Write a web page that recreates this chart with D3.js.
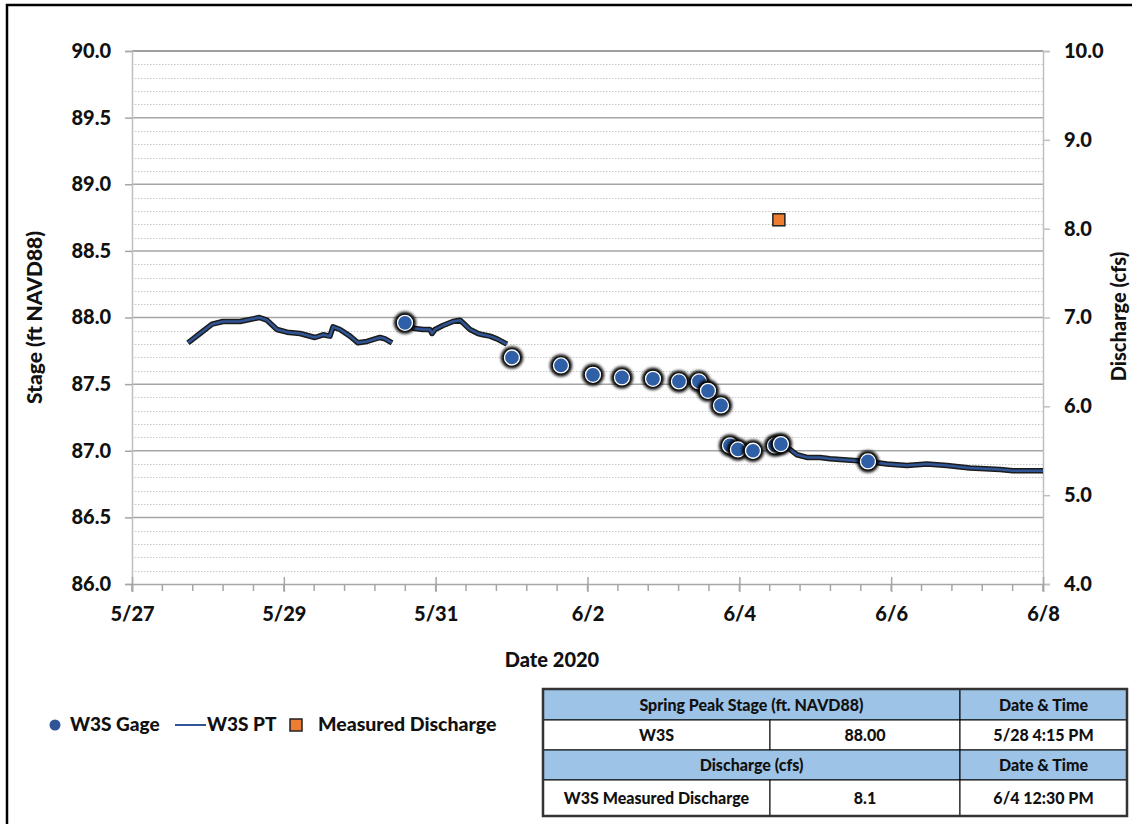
<!DOCTYPE html>
<html>
<head>
<meta charset="utf-8">
<script src="https://cdnjs.cloudflare.com/ajax/libs/d3/7.8.5/d3.min.js"></script>
<style>
  body { margin: 0; background: #fff; }
  text { font-family: Lato, "Open Sans", sans-serif; font-weight: 900; fill: #111; }
</style>
</head>
<body>
<script>
// W3S PT (pressure transducer) stage record, three pieces
var ptSeg1 = [
  ["2020-05-27T17:42", 87.81], ["2020-05-27T21:30", 87.88], ["2020-05-28T01:18", 87.95],
  ["2020-05-28T04:45", 87.97], ["2020-05-28T10:09", 87.97], ["2020-05-28T14:15", 87.99],
  ["2020-05-28T16:15", 88.00], ["2020-05-28T18:40", 87.98], ["2020-05-28T21:50", 87.91],
  ["2020-05-29T01:00", 87.89], ["2020-05-29T05:07", 87.88], ["2020-05-29T09:50", 87.85],
  ["2020-05-29T12:23", 87.87], ["2020-05-29T14:35", 87.86], ["2020-05-29T15:33", 87.93],
  ["2020-05-29T17:45", 87.91], ["2020-05-29T20:55", 87.86], ["2020-05-29T23:27", 87.81],
  ["2020-05-30T02:17", 87.82], ["2020-05-30T06:24", 87.85], ["2020-05-30T08:00", 87.84],
  ["2020-05-30T10:12", 87.81]
];
var ptSeg2 = [
  ["2020-05-30T14:18", 87.96], ["2020-05-30T16:50", 87.92], ["2020-05-30T20:00", 87.91],
  ["2020-05-30T22:12", 87.91], ["2020-05-30T22:50", 87.88], ["2020-05-30T23:47", 87.91],
  ["2020-05-31T02:18", 87.94], ["2020-05-31T05:28", 87.97], ["2020-05-31T07:41", 87.98],
  ["2020-05-31T08:38", 87.96], ["2020-05-31T10:51", 87.91], ["2020-05-31T13:22", 87.88],
  ["2020-05-31T14:57", 87.87], ["2020-05-31T17:10", 87.86], ["2020-05-31T19:23", 87.84],
  ["2020-05-31T22:32", 87.80]
];
var ptSeg3 = [
  ["2020-06-04T13:09", 87.05], ["2020-06-04T16:00", 87.01], ["2020-06-04T18:13", 86.97],
  ["2020-06-04T21:23", 86.95], ["2020-06-05T01:29", 86.95], ["2020-06-05T04:39", 86.94],
  ["2020-06-05T10:02", 86.93], ["2020-06-05T16:40", 86.92], ["2020-06-05T22:40", 86.90],
  ["2020-06-06T05:00", 86.89], ["2020-06-06T11:19", 86.90], ["2020-06-06T17:38", 86.89],
  ["2020-06-07T00:55", 86.87], ["2020-06-07T10:24", 86.86], ["2020-06-07T14:30", 86.85],
  ["2020-06-08T00:00", 86.85]
];

// W3S staff gage readings
var gageTimes = ["2020-05-30T14:18", "2020-06-01T00:07", "2020-06-01T15:37", "2020-06-02T01:44",
  "2020-06-02T10:54", "2020-06-02T20:42", "2020-06-03T04:55", "2020-06-03T11:14",
  "2020-06-03T14:05", "2020-06-03T18:12", "2020-06-03T21:03", "2020-06-03T23:34",
  "2020-06-04T04:19", "2020-06-04T11:17", "2020-06-04T13:09", "2020-06-05T16:40"];
var gageStage = [87.96, 87.70, 87.64, 87.57, 87.55, 87.54, 87.52, 87.52,
  87.45, 87.34, 87.04, 87.01, 87.00, 87.04, 87.05, 86.92];

// measured discharge
var qTimes = ["2020-06-04T12:30"];
var qValues = [8.1];

var xTicks = ["2020-05-27", "2020-05-29", "2020-05-31", "2020-06-02", "2020-06-04", "2020-06-06", "2020-06-08"];
var stageTicks = [86.0, 86.5, 87.0, 87.5, 88.0, 88.5, 89.0, 89.5, 90.0];
var qTicks = [4, 5, 6, 7, 8, 9, 10];

var tableRows = [
  ["Spring Peak Stage (ft. NAVD88)", "", "Date & Time"],
  ["W3S", "88.00", "5/28 4:15 PM"],
  ["Discharge (cfs)", "", "Date & Time"],
  ["W3S Measured Discharge", "8.1", "6/4 12:30 PM"]
];

var W = 1132, H = 824;
var L = 132, R = 1043, T = 51, B = 584;
var parse = d3.isoParse;

var svg = d3.select("body").append("svg").attr("width", W).attr("height", H);

var defs = svg.append("defs");
defs.append("filter").attr("id", "glow").attr("x", "-50%").attr("y", "-50%")
  .attr("width", "200%").attr("height", "200%")
  .append("feGaussianBlur").attr("stdDeviation", 1.4);
defs.append("filter").attr("id", "soft")
  .append("feGaussianBlur").attr("stdDeviation", 0.6);

// outer frame (right and bottom cut off in the original)
svg.append("rect").attr("x", 7).attr("y", 5).attr("width", W + 20).attr("height", H + 20)
  .attr("fill", "none").attr("stroke", "#000").attr("stroke-width", 2.5);

var x = d3.scaleTime().domain([parse("2020-05-27"), parse("2020-06-08")]).range([L, R]);
var y = d3.scaleLinear().domain([86, 90]).range([B, T]);
var y2 = d3.scaleLinear().domain([4, 10]).range([B, T]);

// minor grid every 0.1
var minor = d3.range(861, 901).map(function(d) { return d / 10; }).filter(function(d) { return Math.round(d * 10) % 5 != 0; });
svg.append("g").selectAll("line").data(minor).enter().append("line")
  .attr("x1", L).attr("x2", R).attr("y1", function(d) { return Math.round(y(d)) + 0.5; })
  .attr("y2", function(d) { return Math.round(y(d)) + 0.5; })
  .attr("stroke", "#c8c8c8").attr("stroke-dasharray", "1.5,1.5");

// major grid
svg.append("g").selectAll("line").data(stageTicks.slice(1)).enter().append("line")
  .attr("x1", L).attr("x2", R).attr("y1", function(d) { return y(d); }).attr("y2", function(d) { return y(d); })
  .attr("stroke", function(d) { return d == 90 ? "#7f7f7f" : "#a6a6a6"; }).attr("stroke-width", 1.5);

// left axis
var gl = svg.append("g").attr("transform", "translate(" + L + ",0)")
  .call(d3.axisLeft(y).tickValues(stageTicks).tickFormat(d3.format(".1f")).tickSize(7).tickPadding(14));
gl.select(".domain").attr("stroke", "#bfbfbf").attr("stroke-width", 1.5);
gl.selectAll(".tick line").attr("stroke", "#a6a6a6").attr("stroke-width", 1.5);
gl.selectAll("text").style("font-size", "20px").attr("fill", "#111");

// right axis
var gr = svg.append("g").attr("transform", "translate(" + R + ",0)")
  .call(d3.axisRight(y2).tickValues(qTicks).tickFormat(d3.format(".1f")).tickSize(7).tickPadding(14));
gr.select(".domain").attr("stroke", "#bfbfbf").attr("stroke-width", 1.5);
gr.selectAll(".tick line").attr("stroke", "#bfbfbf").attr("stroke-width", 1.5);
gr.selectAll("text").style("font-size", "20px").attr("fill", "#111");

// bottom axis
var minorX = d3.range(0, 12.01, 0.4).map(function(d) { return new Date(x.domain()[0].getTime() + d * 864e5); });
svg.append("g").selectAll("line").data(minorX).enter().append("line")
  .attr("x1", function(d) { return x(d); }).attr("x2", function(d) { return x(d); })
  .attr("y1", B).attr("y2", B + 7).attr("stroke", "#a6a6a6").attr("stroke-width", 1.5);
var gb = svg.append("g").attr("transform", "translate(0," + B + ")")
  .call(d3.axisBottom(x).tickValues(xTicks.map(parse)).tickFormat(d3.timeFormat("%-m/%-d")).tickSize(8).tickPadding(15));
gb.select(".domain").attr("stroke", "#a6a6a6").attr("stroke-width", 1.5);
gb.selectAll(".tick line").attr("stroke", "#a6a6a6").attr("stroke-width", 1.5).attr("y1", -7);
gb.selectAll("text").style("font-size", "20px").attr("fill", "#111");

// axis titles
svg.append("text").attr("transform", "translate(42," + ((T + B) / 2) + ") rotate(-90)")
  .attr("text-anchor", "middle").style("font-size", "21px").text("Stage (ft NAVD88)");
svg.append("text").attr("transform", "translate(1126," + ((T + B) / 2 - 1) + ") rotate(-90)")
  .attr("text-anchor", "middle").style("font-size", "20px").text("Discharge (cfs)");
svg.append("text").attr("x", 552).attr("y", 667).attr("text-anchor", "middle")
  .style("font-size", "20px").text("Date 2020");

// PT line
var line = d3.line().x(function(d) { return x(parse(d[0])); }).y(function(d) { return y(d[1]); });
[ptSeg1, ptSeg2, ptSeg3].forEach(function(seg) {
  svg.append("path").attr("d", line(seg)).attr("fill", "none").attr("stroke", "#1a1a1a")
    .attr("stroke-width", 5.5).attr("stroke-linejoin", "round").attr("filter", "url(#soft)");
  svg.append("path").attr("d", line(seg)).attr("fill", "none").attr("stroke", "#2F5597")
    .attr("stroke-width", 2.5).attr("stroke-linejoin", "round");
});

// gage points
var gage = gageTimes.map(function(t, i) { return [t, gageStage[i]]; });
var gp = svg.append("g").selectAll("g").data(gage).enter().append("g")
  .attr("transform", function(d) { return "translate(" + x(parse(d[0])) + "," + y(d[1]) + ")"; });
gp.append("circle").attr("r", 11).attr("fill", "#000").attr("filter", "url(#glow)");
gp.append("circle").attr("r", 7.5).attr("fill", "#2F5FA6").attr("stroke", "#fff").attr("stroke-width", 1.3);

// measured discharge
svg.append("g").selectAll("rect").data(qTimes.map(function(t, i) { return [t, qValues[i]]; })).enter()
  .append("rect")
  .attr("x", function(d) { return x(parse(d[0])) - 6; }).attr("y", function(d) { return y2(d[1]) - 6; })
  .attr("width", 12).attr("height", 12).attr("fill", "#ED7D31").attr("stroke", "#222").attr("stroke-width", 1.5);

// legend
var lg = svg.append("g").attr("transform", "translate(0,725)");
lg.append("circle").attr("cx", 55).attr("cy", 0).attr("r", 5.5).attr("fill", "#2F5597");
lg.append("text").attr("x", 70).attr("y", 6).style("font-size", "19px").text("W3S Gage");
lg.append("line").attr("x1", 175).attr("x2", 206).attr("y1", 0).attr("y2", 0).attr("stroke", "#2F5597").attr("stroke-width", 2);
lg.append("text").attr("x", 207).attr("y", 6).style("font-size", "19px").text("W3S PT");
lg.append("rect").attr("x", 290).attr("y", -6).attr("width", 12).attr("height", 12)
  .attr("fill", "#ED7D31").attr("stroke", "#222").attr("stroke-width", 1.5);
lg.append("text").attr("x", 318).attr("y", 6).style("font-size", "19.5px").text("Measured Discharge");

// summary table
var colX = [543, 770, 960, 1127];
var rowY = [689, 720, 750, 780, 816];
var tb = svg.append("g");
tableRows.forEach(function(row, i) {
  var blue = i % 2 == 0;
  var y0 = rowY[i], h = rowY[i + 1] - rowY[i];
  if (blue) {
    tb.append("rect").attr("x", colX[0]).attr("y", y0).attr("width", colX[2] - colX[0]).attr("height", h)
      .attr("fill", "#9DC3E6").attr("stroke", "#000").attr("stroke-width", 1);
    tb.append("rect").attr("x", colX[2]).attr("y", y0).attr("width", colX[3] - colX[2]).attr("height", h)
      .attr("fill", "#9DC3E6").attr("stroke", "#000").attr("stroke-width", 1);
    tb.append("text").attr("x", (colX[0] + colX[2]) / 2).attr("y", y0 + h / 2 + 6)
      .attr("text-anchor", "middle").style("font-size", "16px").text(row[0]);
    tb.append("text").attr("x", (colX[2] + colX[3]) / 2).attr("y", y0 + h / 2 + 6)
      .attr("text-anchor", "middle").style("font-size", "16px").text(row[2]);
  } else {
    row.forEach(function(c, j) {
      tb.append("rect").attr("x", colX[j]).attr("y", y0).attr("width", colX[j + 1] - colX[j]).attr("height", h)
        .attr("fill", "#fff").attr("stroke", "#000").attr("stroke-width", 1);
      tb.append("text").attr("x", (colX[j] + colX[j + 1]) / 2).attr("y", y0 + h / 2 + 6)
        .attr("text-anchor", "middle").style("font-size", "16px").text(c);
    });
  }
});
tb.append("rect").attr("x", colX[0]).attr("y", rowY[0]).attr("width", colX[3] - colX[0])
  .attr("height", rowY[4] - rowY[0]).attr("fill", "none").attr("stroke", "#333").attr("stroke-width", 2.5);
</script>
</body>
</html>
